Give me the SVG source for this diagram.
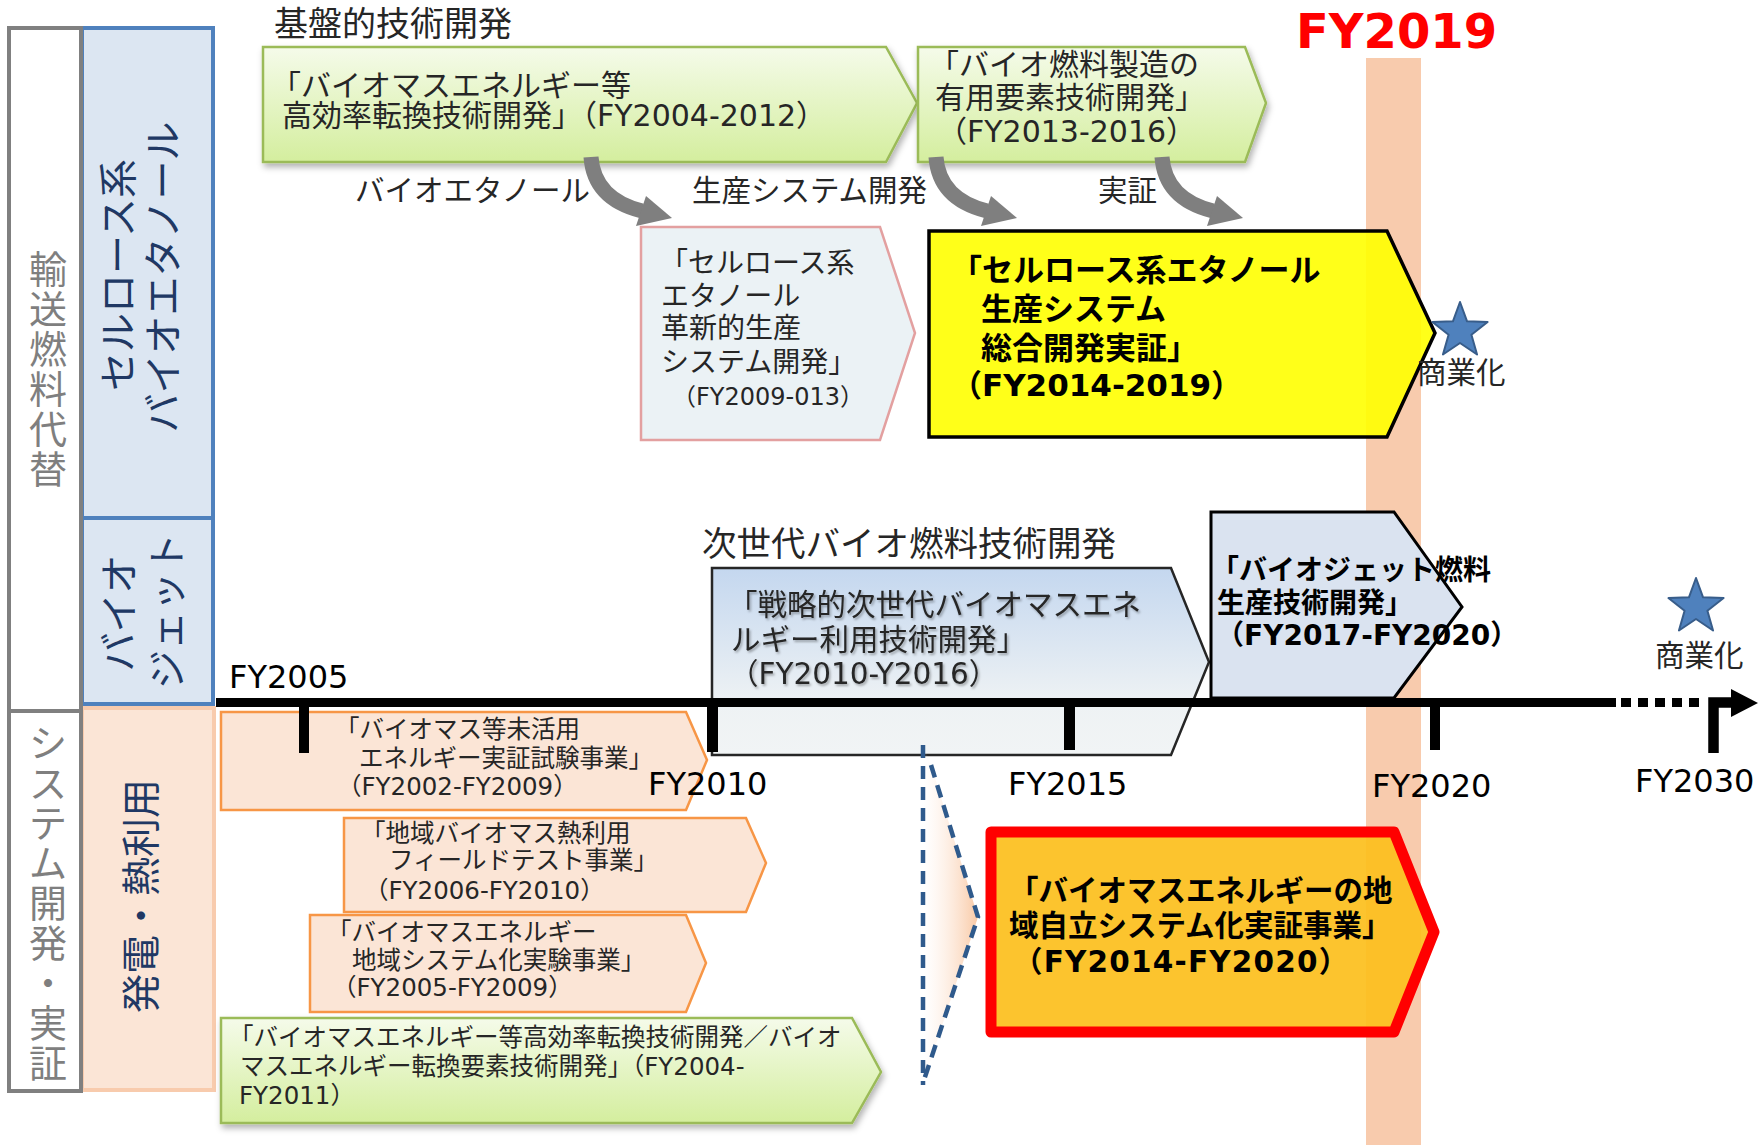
<svg xmlns="http://www.w3.org/2000/svg" width="1759" height="1145" viewBox="0 0 1759 1145">
<defs>
  <linearGradient id="gGreen" x1="0" y1="0" x2="0" y2="1">
    <stop offset="0" stop-color="#f5fbea"/>
    <stop offset="1" stop-color="#d4ee9e"/>
  </linearGradient>
  <linearGradient id="gBlue" x1="0" y1="0" x2="0" y2="1">
    <stop offset="0" stop-color="#c4d7ef"/>
    <stop offset="0.72" stop-color="#eef2f4"/>
    <stop offset="1" stop-color="#f1f4f5"/>
  </linearGradient>
  <linearGradient id="gCallout" x1="0" y1="0" x2="1" y2="0">
    <stop offset="0" stop-color="#fde9dc" stop-opacity="0"/>
    <stop offset="1" stop-color="#f9c9a5"/>
  </linearGradient>
  <filter id="shadow" x="-5%" y="-10%" width="112%" height="135%">
    <feDropShadow dx="2" dy="4" stdDeviation="3" flood-color="#000" flood-opacity="0.3"/>
  </filter>
  <filter id="tshadow" x="-5%" y="-20%" width="110%" height="150%">
    <feDropShadow dx="1.5" dy="2" stdDeviation="1.2" flood-color="#000" flood-opacity="0.3"/>
  </filter>
  <polygon id="star" points="0,-29 7.05,-9.71 27.58,-8.96 11.41,3.71 17.05,23.46 0,12 -17.05,23.46 -11.41,3.71 -27.58,-8.96 -7.05,-9.71" fill="#4f81bd" stroke="#385d8a" stroke-width="2" stroke-linejoin="round"/>
</defs>
<style>
  .jp { font-family: "DejaVu Sans", "Noto Sans CJK JP", "Noto Sans CJK SC", sans-serif; fill: #262626; }
  .b { font-weight: bold; fill: #000; }
  .navy { fill: #203864; }
  .gray { fill: #7f7f7f; }
  .fy { font-family: "DejaVu Sans", "Liberation Sans", sans-serif; font-size: 32px; fill: #000; }
  .green { fill: url(#gGreen); stroke: #9bbb59; stroke-width: 2.5; filter: url(#shadow); }
  .peach { fill: #fbe5d6; stroke: #f79646; stroke-width: 2.5; }
  .tick { fill: #000; }
</style>

<rect width="1759" height="1145" fill="#fff"/>

<!-- FY2019 band -->
<g id="band2019">
  <rect x="1366" y="58" width="55" height="1087" fill="#f8cbad"/>
  <text x="1296" y="48" font-family="DejaVu Sans, Liberation Sans, sans-serif" font-weight="bold" font-size="48" fill="#ff0000">FY2019</text>
</g>

<!-- left category columns -->
<g id="col-blue-ethanol">
  <rect x="82" y="28" width="131" height="490" fill="#dce6f2" stroke="#4f81bd" stroke-width="4"/>
  <text class="jp navy" font-size="39" text-anchor="middle" transform="translate(131.5,275) rotate(-90)">セルロース系</text>
  <text class="jp navy" font-size="39" text-anchor="middle" transform="translate(177,277) rotate(-90)">バイオエタノール</text>
</g>
<g id="col-blue-jet">
  <rect x="82" y="518" width="131" height="186" fill="#dce6f2" stroke="#4f81bd" stroke-width="4"/>
  <text class="jp navy" font-size="39" text-anchor="middle" transform="translate(133,613) rotate(-90)">バイオ</text>
  <text class="jp navy" font-size="39" text-anchor="middle" transform="translate(181,611) rotate(-90)">ジェット</text>
</g>
<g id="col-peach">
  <rect x="82" y="708" width="132" height="382" fill="#fbe5d6" stroke="#f8cbad" stroke-width="4"/>
  <text class="jp navy" font-size="39" text-anchor="middle" transform="translate(155,896) rotate(-90)">発電・熱利用</text>
</g>
<g id="col-gray-top">
  <rect x="9" y="28" width="72" height="683" fill="#fff" stroke="#808080" stroke-width="4"/>
  <text class="jp gray" font-size="38" text-anchor="middle">
    <tspan x="48" y="283">輸</tspan><tspan x="48" y="323">送</tspan><tspan x="48" y="363">燃</tspan><tspan x="48" y="403">料</tspan><tspan x="48" y="443">代</tspan><tspan x="48" y="483">替</tspan>
  </text>
</g>
<g id="col-gray-bottom">
  <rect x="9" y="711" width="72" height="380" fill="#fff" stroke="#808080" stroke-width="4"/>
  <text class="jp gray" font-size="38" text-anchor="middle">
    <tspan x="48" y="757">シ</tspan><tspan x="48" y="797">ス</tspan><tspan x="48" y="837">テ</tspan><tspan x="48" y="877">ム</tspan><tspan x="48" y="917">開</tspan><tspan x="48" y="957">発</tspan><tspan x="48" y="997">・</tspan><tspan x="48" y="1037">実</tspan><tspan x="48" y="1077">証</tspan>
  </text>
</g>

<!-- headings -->
<g id="heading-kiban">
  <text class="jp" font-size="34" x="274" y="36">基盤的技術開発</text>
</g>
<g id="heading-jisedai">
  <text class="jp" font-size="34.5" x="702" y="556">次世代バイオ燃料技術開発</text>
</g>

<!-- top row -->
<g id="node-kouritsu">
  <polygon class="green" points="263,47 886,47 917,103 886,162 263,162"/>
  <text class="jp" font-size="30"><tspan x="271" y="96">「バイオマスエネルギー等</tspan><tspan x="282" y="126">高効率転換技術開発」（FY2004-2012）</tspan></text>
</g>
<g id="node-yoso">
  <polygon class="green" points="918,47 1245,47 1266,103 1245,162 918,162"/>
  <text class="jp" font-size="30"><tspan x="929" y="75">「バイオ燃料製造の</tspan><tspan x="935" y="108">有用要素技術開発」</tspan><tspan x="937" y="142">（FY2013-2016）</tspan></text>
</g>

<g id="labels-arrows">
  <text class="jp" font-size="29.5" x="355" y="201">バイオエタノール</text>
  <text class="jp" font-size="29.5" x="692" y="201">生産システム開発</text>
  <text class="jp" font-size="29.5" x="1098" y="201">実証</text>
</g>

<g id="node-kakushin">
  <polygon points="641,227 880,227 915,333 880,440 641,440" fill="#ebf2f5" stroke="#e3a0a0" stroke-width="2.5"/>
  <text class="jp" font-size="28"><tspan x="660" y="273">「セルロース系</tspan><tspan x="661" y="306">エタノール</tspan><tspan x="661" y="338">革新的生産</tspan><tspan x="661" y="372">システム開発」</tspan></text>
  <text class="jp" font-size="24" x="672" y="405">（FY2009-013）</text>
</g>

<g id="node-sougou">
  <polygon points="929,231 1387,231 1435,333 1387,437 929,437" fill="#ffff00" fill-opacity="0.9" stroke="#000" stroke-width="3.5"/>
  <text class="jp b" font-size="31"><tspan x="951" y="281">「セルロース系エタノール</tspan><tspan x="981" y="320">生産システム</tspan><tspan x="981" y="359">総合開発実証」</tspan><tspan x="951" y="396">（FY2014-2019）</tspan></text>
</g>

<g id="node-commercial-1">
  <use href="#star" x="1460" y="331"/>
  <text class="jp" font-size="29.5" x="1417" y="383">商業化</text>
</g>

<!-- middle -->
<g id="node-senryaku">
  <polygon points="712,568 1171,568 1209,662 1171,755 712,755" fill="url(#gBlue)" stroke="#262626" stroke-width="2.5"/>
  <g filter="url(#tshadow)">
    <text class="jp" font-size="29.5" fill="#3a3a3a"><tspan x="728" y="615">「戦略的次世代バイオマスエネ</tspan><tspan x="731" y="650">ルギー利用技術開発」</tspan><tspan x="729" y="684">（FY2010-Y2016）</tspan></text>
  </g>
</g>

<g id="node-jet">
  <polygon points="1211,512 1394,512 1462,607 1394,698 1211,698" fill="#dae3f0" stroke="#000" stroke-width="3"/>
  <text class="jp b" font-size="28"><tspan x="1211" y="580">「バイオジェット燃料</tspan><tspan x="1217" y="613">生産技術開発」</tspan><tspan x="1216" y="645">（FY2017-FY2020）</tspan></text>
</g>

<g id="node-commercial-2">
  <use href="#star" x="1696" y="607"/>
  <text class="jp" font-size="29.5" x="1655" y="666">商業化</text>
</g>

<!-- bottom row -->
<g id="node-mikatsuyou">
  <polygon class="peach" points="221,712 686,712 707,760 686,810 221,810"/>
  <text class="jp" font-size="24.5"><tspan x="335" y="738">「バイオマス等未活用</tspan><tspan x="359" y="767">エネルギー実証試験事業」</tspan><tspan x="337" y="795">（FY2002-FY2009）</tspan></text>
</g>
<g id="node-netsuriyou">
  <polygon class="peach" points="344,818 746,818 766,863 746,912 344,912"/>
  <text class="jp" font-size="24.5"><tspan x="361" y="842">「地域バイオマス熱利用</tspan><tspan x="389" y="869">フィールドテスト事業」</tspan><tspan x="364" y="899">（FY2006-FY2010）</tspan></text>
</g>
<g id="node-chiiki-system">
  <polygon class="peach" points="310,915 686,915 706,963 686,1012 310,1012"/>
  <text class="jp" font-size="24.5"><tspan x="327" y="941">「バイオマスエネルギー</tspan><tspan x="352" y="969">地域システム化実験事業」</tspan><tspan x="332" y="996">（FY2005-FY2009）</tspan></text>
</g>
<g id="node-kouritsu-2">
  <polygon class="green" points="221,1018 852,1018 881,1072 852,1123 221,1123"/>
  <text class="jp" font-size="24.5"><tspan x="229" y="1046">「バイオマスエネルギー等高効率転換技術開発／バイオ</tspan><tspan x="240" y="1075">マスエネルギー転換要素技術開発」（FY2004-</tspan><tspan x="239" y="1104">FY2011）</tspan></text>
</g>

<g id="node-chiiki-jiritsu">
  <polygon points="991,832 1394,832 1434,932 1394,1032 991,1032" fill="#fcbf1c" fill-opacity="0.92" stroke="#ff0000" stroke-width="11" stroke-linejoin="round"/>
  <text class="jp b" font-size="29.5"><tspan x="1009" y="901">「バイオマスエネルギーの地</tspan><tspan x="1009" y="936">域自立システム化実証事業」</tspan><tspan x="1013" y="972" letter-spacing="1.2">（FY2014-FY2020）</tspan></text>
</g>

<!-- timeline axis -->
<g id="timeline">
  <line x1="216" y1="702.5" x2="1616" y2="702.5" stroke="#000" stroke-width="9"/>
  <line x1="1621" y1="702.5" x2="1701" y2="702.5" stroke="#000" stroke-width="9" stroke-dasharray="10 7"/>
  <path d="M1713.5,753 V702.5 H1733" fill="none" stroke="#000" stroke-width="10.5"/>
  <polygon points="1731,689 1758,703 1731,717" fill="#000"/>
  <rect class="tick" x="299" y="702" width="10" height="51"/>
  <rect class="tick" x="707" y="702" width="11" height="50"/>
  <rect class="tick" x="1064" y="702" width="11" height="48"/>
  <rect class="tick" x="1430" y="702" width="10" height="48"/>
  <text class="fy" x="229" y="688">FY2005</text>
  <text class="fy" x="648" y="795">FY2010</text>
  <text class="fy" x="1008" y="795">FY2015</text>
  <text class="fy" x="1372" y="797">FY2020</text>
  <text class="fy" x="1635" y="792">FY2030</text>
</g>

<!-- connectors -->
<g id="connectors">
  <g fill="none" stroke="#7f7f7f" stroke-width="15">
    <path d="M591,157 C593,185 610,203 642,211"/>
    <path d="M936,157 C938,185 955,203 987,211"/>
    <path d="M1162,157 C1164,185 1181,203 1213,211"/>
  </g>
  <g fill="#7f7f7f">
    <polygon points="636,226 646,196 672,218"/>
    <polygon points="981,226 991,196 1017,218"/>
    <polygon points="1207,226 1217,196 1243,218"/>
  </g>
  <polygon points="923,745 931,765 978,917 924,1080 923,1085" fill="url(#gCallout)"/>
  <g fill="none" stroke="#2f5a8c" stroke-width="4.5" stroke-dasharray="13 8">
    <line x1="923" y1="745" x2="923" y2="1085"/>
    <polyline points="931,765 978,917 924,1080"/>
  </g>
</g>
</svg>
